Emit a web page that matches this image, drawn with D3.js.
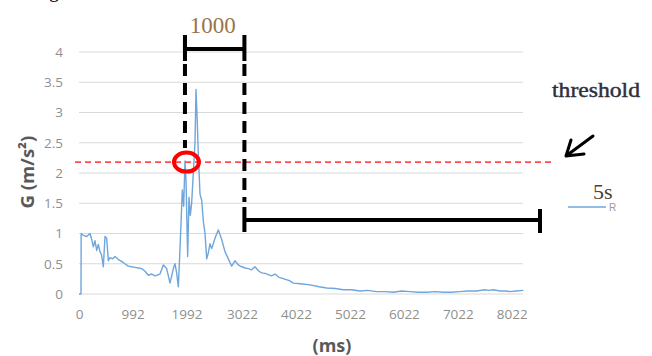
<!DOCTYPE html>
<html>
<head>
<meta charset="utf-8">
<script src="https://cdn.jsdelivr.net/npm/d3@7"></script>
<style>
  html, body { margin: 0; padding: 0; background: #fff; }
  svg { display: block; }
  .tick text { fill: #8f8f8f; font-family: "Open Sans", "Liberation Sans", sans-serif; font-size: 13.5px; }
</style>
</head>
<body>
<div id="chart"></div>
<script>
const width = 652;
const height = 356;

// acceleration trace
const timeMs = [0, 37, 40, 80, 142, 204, 235, 266, 297, 328, 358, 389, 420, 451, 482, 513, 544, 575,
    620, 667, 730, 791, 850, 914, 975, 1038, 1100, 1162, 1220, 1285, 1350, 1409, 1501, 1563, 1625,
    1687, 1749, 1779, 1810, 1841, 1860, 1891, 1915, 1940, 1965, 1983, 2014, 2039, 2063, 2088, 2119,
    2150, 2169, 2190, 2212, 2243, 2274, 2305, 2336, 2367, 2397, 2428, 2459, 2521, 2583, 2645, 2706,
    2768, 2830, 2892, 2953, 3015, 3080, 3139, 3200, 3262, 3330, 3386, 3450, 3509, 3570, 3633, 3700,
    3800, 3900, 3972, 4100, 4282, 4450, 4591, 4750, 4900, 5050, 5208, 5350, 5517, 5680, 5826, 5980,
    6135, 6290, 6445, 6600, 6753, 6900, 7062, 7200, 7371, 7520, 7600, 7680, 7804, 7900, 7989, 8100, 8236];
const gValues = [0, 0, 1.0, 0.97, 0.95, 1.0, 0.9, 0.78, 0.88, 0.72, 0.82, 0.7, 0.64, 0.45, 0.95, 0.92,
    0.55, 0.6, 0.58, 0.62, 0.57, 0.54, 0.5, 0.46, 0.45, 0.44, 0.43, 0.42, 0.38, 0.31, 0.33, 0.30, 0.33,
    0.48, 0.42, 0.18, 0.42, 0.5, 0.35, 0.12, 0.5, 1.17, 1.72, 1.45, 2.2, 1.9, 0.62, 1.6, 1.3, 1.5, 2.0,
    2.5, 3.38, 2.9, 2.3, 1.65, 1.55, 1.2, 1.0, 0.58, 0.68, 0.83, 0.75, 0.92, 1.06, 0.9, 0.7, 0.58, 0.46,
    0.55, 0.48, 0.45, 0.43, 0.42, 0.4, 0.45, 0.38, 0.35, 0.34, 0.32, 0.30, 0.33, 0.28, 0.25, 0.22, 0.18,
    0.17, 0.15, 0.12, 0.1, 0.09, 0.07, 0.07, 0.05, 0.06, 0.04, 0.04, 0.03, 0.05, 0.04, 0.03, 0.03, 0.04,
    0.03, 0.03, 0.04, 0.05, 0.05, 0.07, 0.06, 0.07, 0.05, 0.05, 0.04, 0.05, 0.06];

const xTicks = [0, 992, 1992, 3022, 4022, 5022, 6022, 7022, 8022];
const yTicks = [0, 0.5, 1, 1.5, 2, 2.5, 3, 3.5, 4];
const threshold = 2.18;
const windowStart = 1992;   // detection instant
const windowShort = 1000;   // first window (ms)
const longWindowEnd = 8545; // where the drawn 5 s bracket stops (ms)
const seriesName = "5s";

const svg = d3.select("#chart").append("svg")
    .attr("width", width)
    .attr("height", height);

const x = d3.scaleLinear().domain([0, 8230]).range([79, 523]);
const y = d3.scaleLinear().domain([0, 4]).range([294, 52]);

// gridlines
svg.append("g").selectAll("line")
    .data(yTicks)
    .enter().append("line")
    .attr("x1", x(0)).attr("x2", x(8230))
    .attr("y1", d => y(d)).attr("y2", d => y(d))
    .attr("stroke", "#d9d9d9").attr("stroke-width", 1);

const yAxis = svg.append("g")
    .attr("transform", "translate(67,0)")
    .call(d3.axisLeft(y).tickValues(yTicks).tickSize(0).tickPadding(4).tickFormat(d3.format("")));
yAxis.select(".domain").remove();

const xAxis = svg.append("g")
    .attr("transform", "translate(0,305)")
    .call(d3.axisBottom(x).tickValues(xTicks).tickSize(0).tickPadding(4).tickFormat(d3.format("d")));
xAxis.select(".domain").remove();

// axis titles
svg.append("text")
    .attr("transform", "translate(34,172) rotate(-90)")
    .attr("text-anchor", "middle")
    .style("font-family", "'Open Sans', 'Liberation Sans', sans-serif")
    .style("font-size", "18.5px").style("font-weight", "bold")
    .attr("fill", "#595959")
    .text("G (m/s²)");

svg.append("text")
    .attr("x", 332).attr("y", 352)
    .attr("text-anchor", "middle")
    .style("font-family", "'Open Sans', 'Liberation Sans', sans-serif")
    .style("font-size", "18px").style("font-weight", "bold")
    .attr("fill", "#595959")
    .text("(ms)");

// data line
const points = timeMs.map((t, i) => [t, gValues[i]]);
svg.append("path")
    .datum(points)
    .attr("fill", "none")
    .attr("stroke", "#6fa6dc")
    .attr("stroke-width", 1.4)
    .attr("stroke-linejoin", "round")
    .attr("d", d3.line().x(d => x(d[0])).y(d => y(d[1])));

// threshold line
svg.append("line")
    .attr("x1", 75).attr("x2", 551)
    .attr("y1", y(threshold)).attr("y2", y(threshold))
    .attr("stroke", "#ff4d4d").attr("stroke-width", 1.6)
    .attr("stroke-dasharray", "6,4");

svg.append("ellipse")
    .attr("cx", x(windowStart)).attr("cy", y(threshold))
    .attr("rx", 12.5).attr("ry", 9.5)
    .attr("fill", "none").attr("stroke", "#ff0000").attr("stroke-width", 4);

// window brackets
const bx0 = x(windowStart) - 1.5;
const bx1 = x(windowStart + windowShort) + 4;
const bx2 = x(longWindowEnd);
const black = g => g.attr("stroke", "#000").attr("stroke-width", 4).attr("fill", "none");

svg.append("path").call(black)
    .attr("d", `M${bx0},35V61M${bx0},49H${bx1}M${bx1},35V61`);

svg.append("line").call(black)
    .attr("x1", bx0).attr("x2", bx0).attr("y1", 64).attr("y2", 148)
    .attr("stroke-dasharray", "12,7");
svg.append("line").call(black)
    .attr("x1", bx1).attr("x2", bx1).attr("y1", 64).attr("y2", 202)
    .attr("stroke-dasharray", "12,7");

svg.append("path").call(black)
    .attr("d", `M${bx1},207V232M${bx1},220H${bx2}M${bx2},209V233`);

svg.append("text")
    .attr("x", (bx0 + bx1) / 2 - 2).attr("y", 33)
    .attr("text-anchor", "middle")
    .style("font-family", "'Liberation Serif', serif")
    .style("font-size", "23px")
    .attr("fill", "#9a7448")
    .text(windowShort);

// threshold label + arrow
svg.append("text")
    .attr("x", 552).attr("y", 97)
    .attr("textLength", 88).attr("lengthAdjust", "spacingAndGlyphs")
    .style("font-family", "'Liberation Serif', serif")
    .style("font-size", "20px")
    .attr("fill", "#2f2f3c")
    .attr("stroke", "#2f2f3c").attr("stroke-width", 0.4)
    .text("threshold");

svg.append("path").call(black)
    .attr("stroke-width", 3).attr("stroke-linecap", "round").attr("stroke-linejoin", "round")
    .attr("d", "M593,136L566,156M571,140L566,156L584,154");

// legend
svg.append("line")
    .attr("x1", 568).attr("x2", 606).attr("y1", 207).attr("y2", 207)
    .attr("stroke", "#6fa6dc").attr("stroke-width", 1.5);
svg.append("text")
    .attr("x", 593).attr("y", 199)
    .style("font-family", "'Liberation Serif', serif")
    .style("font-size", "22px")
    .attr("fill", "#4a4238")
    .text(seriesName);
svg.append("text")
    .attr("x", 609).attr("y", 211)
    .style("font-family", "'Liberation Sans', sans-serif")
    .style("font-size", "10px")
    .attr("fill", "#9a9a9a")
    .text("R");

// cut-off caption letter at the top edge
svg.append("text")
    .attr("x", 49).attr("y", -3)
    .style("font-family", "'Liberation Serif', serif")
    .style("font-size", "20px")
    .attr("fill", "#000")
    .text("g");
</script>
</body>
</html>
